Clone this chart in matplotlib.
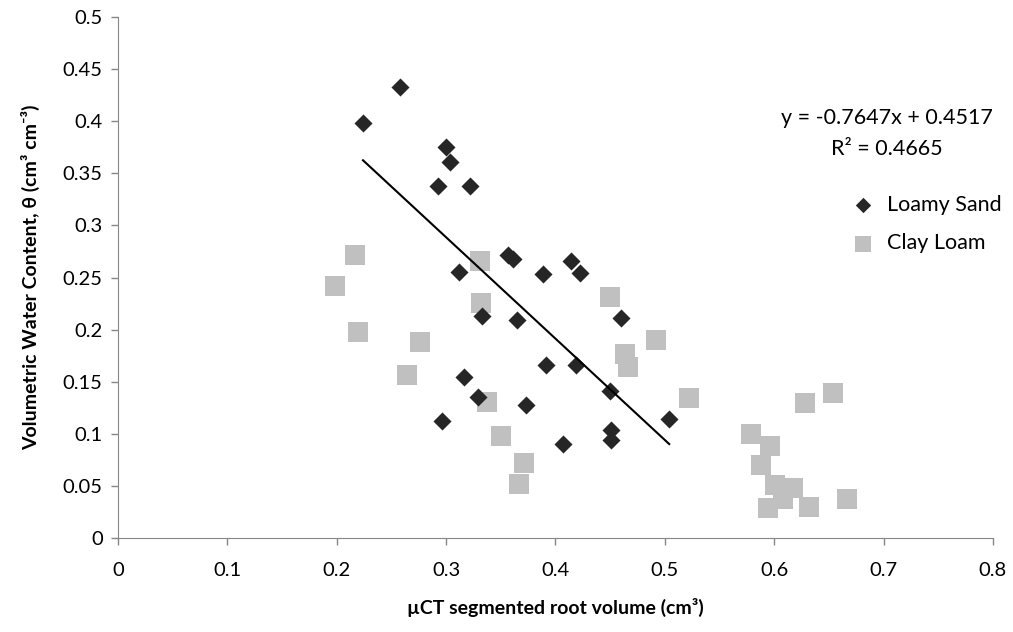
import numpy as np
import matplotlib
matplotlib.use("Agg")
from matplotlib import pyplot as plt

plt.rcParams['font.family'] = ['Lato', 'DejaVu Sans']

# Loamy Sand (diamonds)
sand_x = [0.224, 0.258, 0.300, 0.304, 0.293, 0.322, 0.312, 0.357, 0.361, 0.389,
          0.333, 0.365, 0.391, 0.316, 0.329, 0.373, 0.296, 0.414, 0.422, 0.460,
          0.419, 0.450, 0.504, 0.451, 0.451, 0.407]
sand_y = [0.398, 0.433, 0.375, 0.361, 0.338, 0.338, 0.255, 0.272, 0.268, 0.253,
          0.213, 0.209, 0.166, 0.155, 0.135, 0.128, 0.112, 0.266, 0.254, 0.211,
          0.166, 0.141, 0.114, 0.104, 0.094, 0.090]

# Clay Loam (squares)
clay_x = [0.217, 0.198, 0.219, 0.331, 0.332, 0.276, 0.264, 0.337, 0.350, 0.371,
          0.367, 0.450, 0.464, 0.466, 0.492, 0.522, 0.654, 0.628, 0.579, 0.596,
          0.588, 0.601, 0.617, 0.608, 0.594, 0.632, 0.667]
clay_y = [0.272, 0.242, 0.198, 0.266, 0.226, 0.188, 0.156, 0.131, 0.098, 0.072,
          0.052, 0.231, 0.177, 0.164, 0.190, 0.134, 0.139, 0.130, 0.100, 0.088,
          0.070, 0.051, 0.048, 0.037, 0.029, 0.030, 0.037]

equation_text = "y = -0.7647x + 0.4517\nR\u00b2 = 0.4665"
x_ticks = [0, 0.1, 0.2, 0.3, 0.4, 0.5, 0.6, 0.7, 0.8]
y_ticks = [0, 0.05, 0.1, 0.15, 0.2, 0.25, 0.3, 0.35, 0.4, 0.45, 0.5]

fig = plt.figure(figsize=(10.13, 6.32), dpi=100)
ax = fig.add_axes([0.1165, 0.1487, 0.8637, 0.8244])

ax.scatter(clay_x, clay_y, marker='s', s=13.7 ** 2, color='#c0c0c0', linewidths=0,
           label='Clay Loam', zorder=2)
ax.scatter(sand_x, sand_y, marker='D', s=9.2 ** 2, color='#262626', linewidths=0,
           label='Loamy Sand', zorder=3)

# linear trendline over the loamy sand data range
slope, intercept = np.polyfit(sand_x, sand_y, 1)
tx = np.array([min(sand_x), max(sand_x)])
ax.plot(tx, slope * tx + intercept, color='black', lw=1.5, zorder=4)

ax.text(0.703, 0.388, equation_text, ha='center', va='center', fontsize=15.5,
        linespacing=1.7)

ax.set_xlim(0, 0.8)
ax.set_ylim(0, 0.5)
ax.set_xticks(x_ticks)
ax.set_yticks(y_ticks)
ax.set_xticklabels([f"{v:g}" for v in x_ticks])
ax.set_yticklabels([f"{v:g}" for v in y_ticks])
ax.tick_params(labelsize=14.5, colors='#868686', labelcolor='black', length=5, width=1, pad=6)
ax.tick_params(axis='x', pad=12)

for side in ('top', 'right'):
    ax.spines[side].set_visible(False)
for side in ('left', 'bottom'):
    ax.spines[side].set_color('#868686')

ax.set_xlabel("\u00b5CT segmented root volume (cm\u00b3)", fontsize=14, fontweight='bold', labelpad=14)
ax.set_ylabel("Volumetric Water Content, \u03b8 (cm\u00b3 cm\u207b\u00b3)", fontsize=14,
              fontweight='bold', labelpad=16)

handles, labels = ax.get_legend_handles_labels()
ax.legend(handles[::-1], labels[::-1], loc='upper left', bbox_to_anchor=(0.812, 0.722),
          bbox_transform=fig.transFigure, frameon=False, fontsize=15.5, handletextpad=0.1,
          labelspacing=0.85, markerscale=0.85)

fig.savefig("out.png", dpi=100)
